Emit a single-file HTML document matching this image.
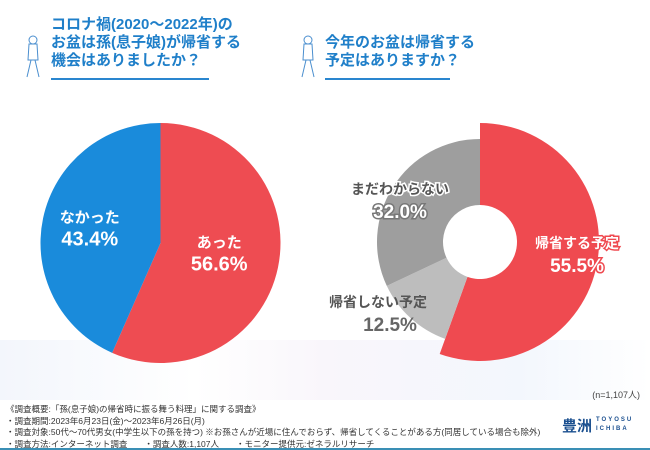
<!DOCTYPE html>
<html><head><meta charset="utf-8"><style>
body{margin:0;width:650px;height:450px;overflow:hidden;background:#fff;font-family:"Liberation Sans","Noto Sans CJK JP",sans-serif;position:relative}
.t{position:absolute;color:#1f7fc9;font-size:15px;font-weight:bold;line-height:18px}
.ul{position:absolute;height:1.5px;background:#2a86cf}
.foot{position:absolute;left:6px;font-size:8.5px;color:#333;line-height:11.5px}
</style></head><body>
<div style="position:absolute;left:0;top:340px;width:650px;height:60px;background:linear-gradient(90deg,#f3f6fc,#fff 30%,#f9f6fb 50%,#f3f7fd 80%,#fff)"></div>
<svg style="position:absolute;left:22px;top:34px" width="22" height="46"><g fill="none" stroke="#4b8fcf" stroke-width="1"><circle cx="11" cy="6" r="4"/><path d="M7 10 L15 10 L16 26 L6 26 Z M9 26 L5 43 M13 26 L17 43"/></g></svg>
<svg style="position:absolute;left:297px;top:34px" width="22" height="46"><g fill="none" stroke="#4b8fcf" stroke-width="1"><circle cx="11" cy="6" r="4"/><path d="M7 10 L15 10 L16 26 L6 26 Z M9 26 L5 43 M13 26 L17 43"/></g></svg>
<div class="t" style="left:51px;top:16px">コロナ禍(2020～2022年)の<br>お盆は孫(息子娘)が帰省する<br>機会はありましたか？</div>
<div class="ul" style="left:51px;top:78px;width:158px"></div>
<div class="t" style="left:325px;top:34px">今年のお盆は帰省する<br>予定はありますか？</div>
<div class="ul" style="left:325px;top:78px;width:125px"></div>
<svg id="c" width="650" height="450" style="position:absolute;left:0;top:0"></svg>
<div style="position:absolute;right:10px;top:388px;font-size:9px;color:#444">(n=1,107人)</div>
<div class="foot" style="top:404px">《調査概要:「孫(息子娘)の帰省時に振る舞う料理」に関する調査》<br>・調査期間:2023年6月23日(金)～2023年6月26日(月)<br>・調査対象:50代～70代男女(中学生以下の孫を持つ) ※お孫さんが近場に住んでおらず、帰省してくることがある方(同居している場合も除外)<br>・調査方法:インターネット調査　　・調査人数:1,107人　　・モニター提供元:ゼネラルリサーチ</div>
<div style="position:absolute;left:562px;top:415px;color:#1a4f8f;font-weight:bold;font-size:15px">豊洲<span style="font-size:6px;position:absolute;left:34px;top:1px;letter-spacing:2px;line-height:9px">TOYOSU<br>ICHIBA</span></div>
<div style="position:absolute;left:0;top:448px;width:650px;height:2px;background:#3a8fb5"></div>
<script>
const leftCats=["あった","なかった"];
const leftVals=[56.6,43.4];
const rightCats=["帰省する予定","帰省しない予定","まだわからない"];
const rightVals=[55.5,12.5,32.0];
const svg=document.getElementById('c');const NS='http://www.w3.org/2000/svg';
function pt(cx,cy,r,p){const a=p/100*2*Math.PI;return [cx+r*Math.sin(a),cy-r*Math.cos(a)];}
function arc(cx,cy,r,ri,p0,p1){const l=(p1-p0)>50?1:0;const [x0,y0]=pt(cx,cy,r,p0),[x1,y1]=pt(cx,cy,r,p1);
 if(!ri)return `M${cx},${cy}L${x0},${y0}A${r},${r} 0 ${l} 1 ${x1},${y1}Z`;
 const [a0,b0]=pt(cx,cy,ri,p1),[a1,b1]=pt(cx,cy,ri,p0);
 return `M${x0},${y0}A${r},${r} 0 ${l} 1 ${x1},${y1}L${a0},${b0}A${ri},${ri} 0 ${l} 0 ${a1},${b1}Z`;}
function add(tag,at){const e=document.createElementNS(NS,tag);for(const k in at)e.setAttribute(k,at[k]);svg.appendChild(e);return e;}
function txt(x,y,s,size,fill,stroke,name){const e=add('text',{x:x,y:y,'text-anchor':'middle','font-size':size,'font-weight':'bold',fill:fill,'font-family':'Liberation Sans, Noto Sans CJK JP, sans-serif'});
 if(stroke){e.setAttribute('stroke',stroke);e.setAttribute('stroke-width','3');e.setAttribute('paint-order','stroke');}
 e.textContent=s;
 
 }
const lc=['#ee4c52','#1a8bdb'];let acc=0;
leftVals.forEach((v,i)=>{const p=add('path',{d:arc(160.5,243,120,0,acc,acc+v),fill:lc[i]});
 
 
 const [lx,ly]=pt(160.5,243,60,acc+v/2);
 txt(lx+(i?-12:0),ly-8,leftCats[i],15,'#fff',lc[i],'left-label-'+i);
 txt(lx+(i?-12:0),ly+15,v.toFixed(1)+'%',20,'#fff',lc[i],'left-value-'+i);
 acc+=v;});
const rc=['#ef4a50','#bdbdbd','#9e9e9e'];const rr=[119,103,103];acc=0;
rightVals.forEach((v,i)=>{const p=add('path',{d:arc(480,242,rr[i],37,acc,acc+v),fill:rc[i]});
 
 
 acc+=v;});
const lp=[[577,248],[378,307],[400,194]];
rightCats.forEach((c,i)=>{txt(lp[i][0],lp[i][1],c,14,i==0?'#fff':'#555',i==0?'#ef4a50':(i==2?'#fff':null),'right-label-'+i);
 txt(lp[i][0]+(i==1?12:0),lp[i][1]+24,rightVals[i].toFixed(1)+'%',19,i==0?'#fff':(i==2?'#fff':'#666'),i==0?'#ef4a50':(i==2?'#777':null),'right-value-'+i);});
</script>
</body></html>
